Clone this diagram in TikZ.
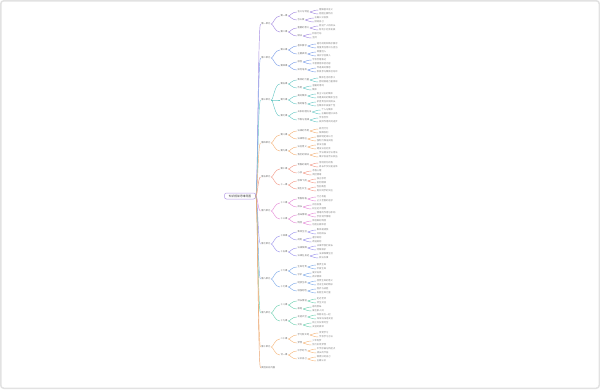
\documentclass[tikz,border=0pt]{standalone}
\usepackage{fontspec}
\newfontfamily\cjk{Noto Sans CJK SC}
\definecolor{c1}{HTML}{A48BE0}
\definecolor{c2}{HTML}{7E9FE8}
\definecolor{c3}{HTML}{6CC9C6}
\definecolor{c4}{HTML}{F3B27A}
\definecolor{c5}{HTML}{F29A88}
\definecolor{c6}{HTML}{E48BD6}
\definecolor{c7}{HTML}{9C95EC}
\definecolor{c8}{HTML}{7FAAE8}
\definecolor{c9}{HTML}{6FD0B0}
\definecolor{c10}{HTML}{F5B77C}
\definecolor{c11}{HTML}{E9A36E}
\definecolor{rootc}{HTML}{B49AE6}
\definecolor{framec}{HTML}{E2E2E2}
\newcommand\mmkid[5]{%
  \path (#1.east) ++(8.5,0) coordinate (#2c);
  \node[#4] (#2) at (#2c |- 0,#3) {#5};
  \draw[link,draw=\mmc] (#1.east) .. controls +(2,0) and +(-5,0) .. (#2.west);}
\newcommand\mmthree[6]{%
  \mmkid{#1}{#2}{#3}{l3}{#4}%
  \mmkid{#2}{#2x}{#3-2}{lf}{#5}%
  \mmkid{#2}{#2y}{#3+2}{lf}{#6}}
\newcommand\mmtop[3]{%
  \node[l1] (#1) at (260.5,#2) {#3};
  \draw[link,draw=\mmc] (root.east) .. controls +(2,0) and +(-2.5,0) .. (#1.west);}
\begin{document}
\begin{tikzpicture}[x=1pt,y=-1pt,
  link/.style={line width=0.45pt},
  l1/.style={font=\cjk\fontsize{2.3}{2.8}\selectfont, text=black!60, inner sep=0.6pt, anchor=west},
  l2/.style={l1},
  l3/.style={l1, text=black!55},
  lf/.style={l1, text=black!48},
  rootbox/.style={draw=rootc, line width=0.5pt, rounded corners=2pt, fill=white,
    minimum width=31pt, minimum height=6pt, inner sep=0.5pt,
    font=\cjk\fontsize{2.8}{3}\selectfont, text=black!75},
  frame/.style={draw=framec, line width=1.5pt, rounded corners=3pt}]
\useasboundingbox (0,0) rectangle (600,389);
\path[frame] (0.75,0.75) rectangle (599.25,388.25);
\node[rootbox] (root) at (240,196) {知识框架思维导图};
% Branch 1
\def\mmc{c1}
\mmtop{b1}{24}{第一单元}
\mmkid{b1}{b1a}{16}{l2}{第一课}
\mmthree{b1a}{b1a1}{12}{含义与特征}{理解基本含义}{把握主要特点}
\mmthree{b1a}{b1a2}{20}{怎么做}{正确认识自我}{接纳自己}
\mmkid{b1}{b1b}{32}{l2}{第二课}
\mmthree{b1b}{b1b1}{28}{重要的意义}{促进个人的成长}{有利于社会发展}
\mmthree{b1b}{b1b2}{36}{做法}{积极行动}{坚持}
% Branch 2
\def\mmc{c2}
\mmtop{b2}{58}{第二单元}
\mmkid{b2}{b2a}{50}{l2}{第三课}
\mmthree{b2a}{b2a1}{46}{基本要求}{遵守规则和秩序要求}{增强责任意识与担当}
\mmthree{b2a}{b2a2}{54}{主要表现}{尊重他人}{诚实守信做人}
\mmkid{b2}{b2b}{66}{l2}{第四课}
\mmthree{b2b}{b2b1}{62}{原因}{学会合理表达}{丰富情感体验内容}
\mmthree{b2b}{b2b2}{70}{如何培养}{传递美好情感}{积极参与集体活动中}
% Branch 3
\def\mmc{c3}
\mmtop{b3}{100}{第三单元}
\mmkid{b3}{b3a}{84}{l2}{第五课}
\mmthree{b3a}{b3a1}{80}{集体的力量}{集体生活的意义}{团结就是力量源泉}
\mmthree{b3a}{b3a2}{88}{作用}{温暖的港湾}{集体}
\mmkid{b3}{b3b}{100}{l2}{第六课}
\mmthree{b3b}{b3b1}{96}{美好集体}{民主公正的集体}{共建美好的集体生活}
\mmthree{b3b}{b3b2}{104}{我的角色}{承担责任共同成长}{在集体中发展个性}
\mmkid{b3}{b3c}{116}{l2}{第七课}
\mmthree{b3c}{b3c1}{112}{关系处理方法}{个人与集体}{正确处理好关系}
\mmthree{b3c}{b3c2}{120}{节奏与旋律}{学会合作}{发挥作用共同进步}
% Branch 4
\def\mmc{c4}
\mmtop{b4}{143}{第四单元}
\mmkid{b4}{b4a}{135}{l2}{第八课}
\mmthree{b4a}{b4a1}{131}{法律的作用}{规范行为}{保障权利}
\mmthree{b4a}{b4a2}{139}{法律特征}{国家制定或认可}{强制力保证实施}
\mmkid{b4}{b4b}{151}{l2}{第九课}
\mmthree{b4b}{b4b1}{147}{法治意义}{依法治国}{建设法治社会}
\mmthree{b4b}{b4b2}{155}{我们的做法}{学法尊法守法用法}{维护自身合法权益}
% Branch 5
\def\mmc{c5}
\mmtop{b5}{177}{第五单元}
\mmkid{b5}{b5a}{169}{l2}{第十课}
\mmthree{b5a}{b5a1}{165}{青春的邀约}{悄悄变化的我}{成长不仅仅是身体}
\mmthree{b5a}{b5a2}{173}{心弦}{矛盾心理}{调控情绪}
\mmkid{b5}{b5b}{185}{l2}{十一课}
\mmthree{b5b}{b5b1}{181}{思维飞扬}{独立思考}{批判精神}
\mmthree{b5b}{b5b2}{189}{男生女生}{性别角色}{男女同学的交往}
% Branch 6
\def\mmc{c6}
\mmtop{b6}{211}{第六单元}
\mmkid{b6}{b6a}{203}{l2}{十二课}
\mmthree{b6a}{b6a1}{199}{青春有格}{行己有耻}{止于至善的追求}
\mmthree{b6a}{b6a2}{207}{成长}{自信自强}{树立远大理想}
\mmkid{b6}{b6b}{219}{l2}{十三课}
\mmthree{b6b}{b6b1}{215}{品味情绪}{情绪的作用与影响}{学会调节情绪}
\mmthree{b6b}{b6b2}{223}{情感}{体验美好情感}{创造正面体验}
% Branch 7
\def\mmc{c7}
\mmtop{b7}{244}{第七单元}
\mmkid{b7}{b7a}{236}{l2}{十四课}
\mmthree{b7a}{b7a1}{232}{集体生活}{集体邀请我}{共同成长}
\mmthree{b7a}{b7a2}{240}{规则}{遵守规则}{改进规则}
\mmkid{b7}{b7b}{252}{l2}{十五课}
\mmthree{b7b}{b7b1}{248}{法律保障}{法律伴我们成长}{特殊保护}
\mmthree{b7b}{b7b2}{256}{法律在身边}{法律保障生活}{依法办事}
% Branch 8
\def\mmc{c8}
\mmtop{b8}{279}{第八单元}
\mmkid{b8}{b8a}{271}{l2}{十六课}
\mmthree{b8a}{b8a1}{267}{生命可贵}{敬畏生命}{珍爱生命}
\mmthree{b8a}{b8a2}{275}{守护}{爱护身体}{养护精神}
\mmkid{b8}{b8b}{287}{l2}{十七课}
\mmthree{b8b}{b8b1}{283}{绽放生命}{感受生命的意义}{活出生命的精彩}
\mmthree{b8b}{b8b2}{291}{增强韧性}{挫折与战胜}{发掘生命力量}
% Branch 9
\def\mmc{c9}
\mmtop{b9}{313}{第九单元}
\mmkid{b9}{b9a}{305}{l2}{十八课}
\mmthree{b9a}{b9a1}{301}{师长情谊}{走近老师}{师生交往}
\mmthree{b9a}{b9a2}{309}{家庭}{家的意味}{爱在家人间}
\mmkid{b9}{b9b}{321}{l2}{十九课}
\mmthree{b9b}{b9b1}{317}{友谊天空}{和朋友在一起}{深深浅浅话友谊}
\mmthree{b9b}{b9b2}{325}{交友}{网上交友新时空}{友谊的真谛}
% Branch 10
\def\mmc{c10}
\mmtop{b10}{347}{第十单元}
\mmkid{b10}{b10a}{339}{l2}{二十课}
\mmthree{b10a}{b10a1}{335}{学习新天地}{享受学习}{学会学习方法}
\mmthree{b10a}{b10a2}{343}{梦想}{少年有梦}{努力实现梦想}
\mmkid{b10}{b10b}{355}{l2}{廿一课}
\mmthree{b10b}{b10b1}{351}{中学时代}{中学序曲与新起点}{成长的节拍}
\mmthree{b10b}{b10b2}{359}{认识自己}{做更好的自己}{正确认识}
% Lone
\def\mmc{c11}
\mmtop{b11}{368}{其他补充内容}
\end{tikzpicture}
\end{document}
